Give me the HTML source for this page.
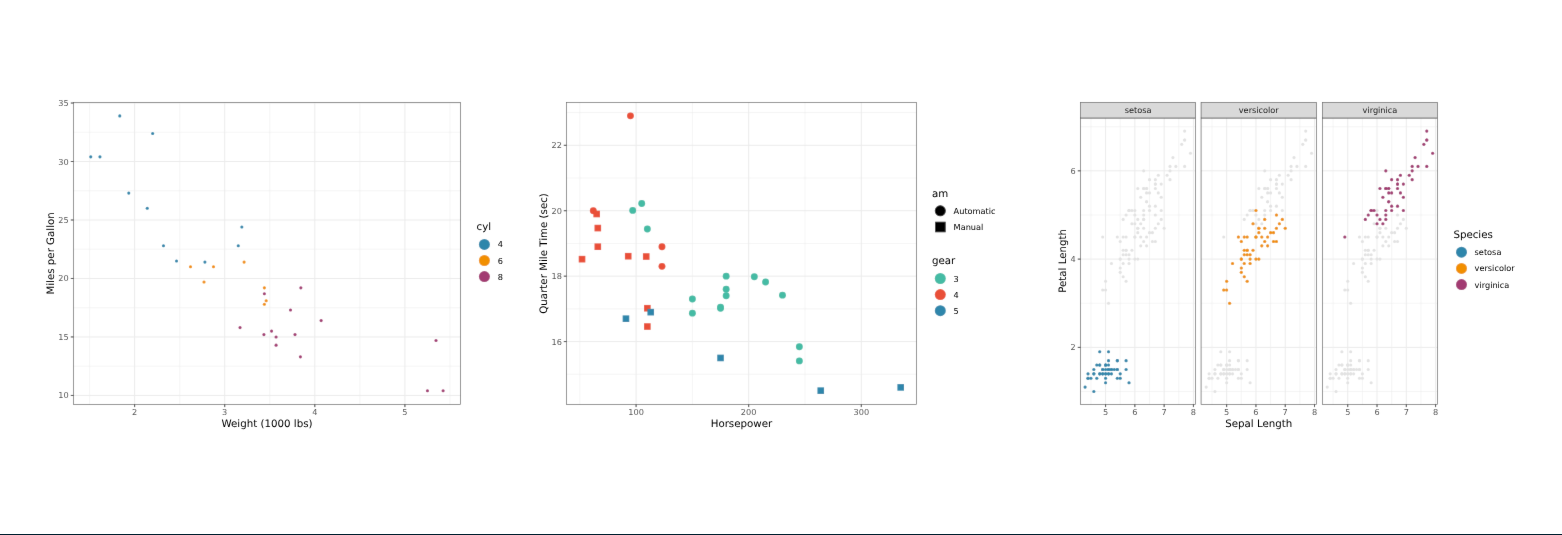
<!DOCTYPE html>
<html><head><meta charset="utf-8"><title>Plots</title>
<style>
html,body{margin:0;padding:0;background:#fff;}
body{width:1562px;height:535px;overflow:hidden;position:relative;}
.wrap{position:absolute;left:0;top:0;width:1562px;height:535px;}
svg{position:absolute;left:0;top:0;}
svg text{font-family:'DejaVu Sans', 'Liberation Sans', sans-serif;text-rendering:geometricPrecision;}
.bar{position:absolute;left:0;top:534px;width:1562px;height:1px;background:#00202f;}
</style></head><body>
<div class="wrap"><svg width="1562" height="535" viewBox="0 0 1562 535">
<defs><filter id="soft" x="0" y="0" width="1562" height="535" filterUnits="userSpaceOnUse"><feConvolveMatrix order="3" kernelMatrix="0.00524 0.06192 0.00524 0.06192 0.73137 0.06192 0.00524 0.06192 0.00524" edgeMode="duplicate" preserveAlpha="true"/></filter><filter id="tsoft" x="0" y="0" width="1562" height="535" filterUnits="userSpaceOnUse"><feConvolveMatrix order="3" kernelMatrix="0.00163 0.03713 0.00163 0.03713 0.84497 0.03713 0.00163 0.03713 0.00163" edgeMode="none"/></filter></defs>
<g filter="url(#soft)">
<rect x="0" y="0" width="1562" height="535" fill="#fff"/>
<line x1="73.5" x2="460.5" y1="366.19" y2="366.19" stroke="#EBEBEB" stroke-width="0.5"/>
<line x1="73.5" x2="460.5" y1="307.71" y2="307.71" stroke="#EBEBEB" stroke-width="0.5"/>
<line x1="73.5" x2="460.5" y1="249.23" y2="249.23" stroke="#EBEBEB" stroke-width="0.5"/>
<line x1="73.5" x2="460.5" y1="190.75" y2="190.75" stroke="#EBEBEB" stroke-width="0.5"/>
<line x1="73.5" x2="460.5" y1="132.27" y2="132.27" stroke="#EBEBEB" stroke-width="0.5"/>
<line y1="102.45" y2="404.4" x1="89.6" x2="89.6" stroke="#EBEBEB" stroke-width="0.5"/>
<line y1="102.45" y2="404.4" x1="179.69" x2="179.69" stroke="#EBEBEB" stroke-width="0.5"/>
<line y1="102.45" y2="404.4" x1="269.78" x2="269.78" stroke="#EBEBEB" stroke-width="0.5"/>
<line y1="102.45" y2="404.4" x1="359.87" x2="359.87" stroke="#EBEBEB" stroke-width="0.5"/>
<line y1="102.45" y2="404.4" x1="449.96" x2="449.96" stroke="#EBEBEB" stroke-width="0.5"/>
<line x1="73.5" x2="460.5" y1="395.44" y2="395.44" stroke="#EBEBEB" stroke-width="1.0"/>
<line x1="73.5" x2="460.5" y1="336.95" y2="336.95" stroke="#EBEBEB" stroke-width="1.0"/>
<line x1="73.5" x2="460.5" y1="278.47" y2="278.47" stroke="#EBEBEB" stroke-width="1.0"/>
<line x1="73.5" x2="460.5" y1="219.99" y2="219.99" stroke="#EBEBEB" stroke-width="1.0"/>
<line x1="73.5" x2="460.5" y1="161.51" y2="161.51" stroke="#EBEBEB" stroke-width="1.0"/>
<line x1="73.5" x2="460.5" y1="103.03" y2="103.03" stroke="#EBEBEB" stroke-width="1.0"/>
<line y1="102.45" y2="404.4" x1="134.64" x2="134.64" stroke="#EBEBEB" stroke-width="1.0"/>
<line y1="102.45" y2="404.4" x1="224.73" x2="224.73" stroke="#EBEBEB" stroke-width="1.0"/>
<line y1="102.45" y2="404.4" x1="314.82" x2="314.82" stroke="#EBEBEB" stroke-width="1.0"/>
<line y1="102.45" y2="404.4" x1="404.91" x2="404.91" stroke="#EBEBEB" stroke-width="1.0"/>
<circle cx="190.5" cy="266.78" r="1.55" fill="#F18F01"/>
<circle cx="213.47" cy="266.78" r="1.55" fill="#F18F01"/>
<circle cx="163.47" cy="245.72" r="1.55" fill="#2E86AB"/>
<circle cx="244.1" cy="262.1" r="1.55" fill="#F18F01"/>
<circle cx="264.37" cy="293.68" r="1.55" fill="#A23B72"/>
<circle cx="266.17" cy="300.7" r="1.55" fill="#F18F01"/>
<circle cx="276.08" cy="345.14" r="1.55" fill="#A23B72"/>
<circle cx="241.85" cy="227.01" r="1.55" fill="#2E86AB"/>
<circle cx="238.25" cy="245.72" r="1.55" fill="#2E86AB"/>
<circle cx="264.37" cy="287.83" r="1.55" fill="#F18F01"/>
<circle cx="264.37" cy="304.2" r="1.55" fill="#F18F01"/>
<circle cx="321.13" cy="320.58" r="1.55" fill="#A23B72"/>
<circle cx="290.5" cy="310.05" r="1.55" fill="#A23B72"/>
<circle cx="295" cy="334.61" r="1.55" fill="#A23B72"/>
<circle cx="427.44" cy="390.76" r="1.55" fill="#A23B72"/>
<circle cx="443.11" cy="390.76" r="1.55" fill="#A23B72"/>
<circle cx="436" cy="340.46" r="1.55" fill="#A23B72"/>
<circle cx="152.66" cy="133.44" r="1.55" fill="#2E86AB"/>
<circle cx="99.96" cy="156.83" r="1.55" fill="#2E86AB"/>
<circle cx="119.78" cy="115.89" r="1.55" fill="#2E86AB"/>
<circle cx="176.53" cy="260.93" r="1.55" fill="#2E86AB"/>
<circle cx="271.58" cy="331.11" r="1.55" fill="#A23B72"/>
<circle cx="263.92" cy="334.61" r="1.55" fill="#A23B72"/>
<circle cx="300.41" cy="356.84" r="1.55" fill="#A23B72"/>
<circle cx="300.86" cy="287.83" r="1.55" fill="#A23B72"/>
<circle cx="128.79" cy="193.09" r="1.55" fill="#2E86AB"/>
<circle cx="147.25" cy="208.29" r="1.55" fill="#2E86AB"/>
<circle cx="90.77" cy="156.83" r="1.55" fill="#2E86AB"/>
<circle cx="240.05" cy="327.6" r="1.55" fill="#A23B72"/>
<circle cx="204.01" cy="281.98" r="1.55" fill="#F18F01"/>
<circle cx="276.08" cy="336.95" r="1.55" fill="#A23B72"/>
<circle cx="204.91" cy="262.1" r="1.55" fill="#2E86AB"/>
<rect x="73.5" y="102.45" width="387" height="301.95" fill="none" stroke="#444444" stroke-width="0.6"/>
<line x1="70.8" x2="73.5" y1="395.44" y2="395.44" stroke="#333333" stroke-width="1.0"/>
<line x1="70.8" x2="73.5" y1="336.95" y2="336.95" stroke="#333333" stroke-width="1.0"/>
<line x1="70.8" x2="73.5" y1="278.47" y2="278.47" stroke="#333333" stroke-width="1.0"/>
<line x1="70.8" x2="73.5" y1="219.99" y2="219.99" stroke="#333333" stroke-width="1.0"/>
<line x1="70.8" x2="73.5" y1="161.51" y2="161.51" stroke="#333333" stroke-width="1.0"/>
<line x1="70.8" x2="73.5" y1="103.03" y2="103.03" stroke="#333333" stroke-width="1.0"/>
<line x1="134.64" x2="134.64" y1="404.4" y2="407.1" stroke="#333333" stroke-width="1.0"/>
<line x1="224.73" x2="224.73" y1="404.4" y2="407.1" stroke="#333333" stroke-width="1.0"/>
<line x1="314.82" x2="314.82" y1="404.4" y2="407.1" stroke="#333333" stroke-width="1.0"/>
<line x1="404.91" x2="404.91" y1="404.4" y2="407.1" stroke="#333333" stroke-width="1.0"/>
<circle cx="484.4" cy="244.4" r="5.5" fill="#2E86AB"/>
<circle cx="484.4" cy="260.5" r="5.5" fill="#F18F01"/>
<circle cx="484.4" cy="276.6" r="5.5" fill="#A23B72"/>
<line x1="566.5" x2="916.4" y1="374.3" y2="374.3" stroke="#EBEBEB" stroke-width="0.5"/>
<line x1="566.5" x2="916.4" y1="308.87" y2="308.87" stroke="#EBEBEB" stroke-width="0.5"/>
<line x1="566.5" x2="916.4" y1="243.45" y2="243.45" stroke="#EBEBEB" stroke-width="0.5"/>
<line x1="566.5" x2="916.4" y1="178.02" y2="178.02" stroke="#EBEBEB" stroke-width="0.5"/>
<line x1="566.5" x2="916.4" y1="112.59" y2="112.59" stroke="#EBEBEB" stroke-width="0.5"/>
<line y1="102.45" y2="404.4" x1="579.79" x2="579.79" stroke="#EBEBEB" stroke-width="0.5"/>
<line y1="102.45" y2="404.4" x1="692.39" x2="692.39" stroke="#EBEBEB" stroke-width="0.5"/>
<line y1="102.45" y2="404.4" x1="804.99" x2="804.99" stroke="#EBEBEB" stroke-width="0.5"/>
<line x1="566.5" x2="916.4" y1="341.59" y2="341.59" stroke="#EBEBEB" stroke-width="1.0"/>
<line x1="566.5" x2="916.4" y1="276.16" y2="276.16" stroke="#EBEBEB" stroke-width="1.0"/>
<line x1="566.5" x2="916.4" y1="210.73" y2="210.73" stroke="#EBEBEB" stroke-width="1.0"/>
<line x1="566.5" x2="916.4" y1="145.3" y2="145.3" stroke="#EBEBEB" stroke-width="1.0"/>
<line y1="102.45" y2="404.4" x1="636.09" x2="636.09" stroke="#EBEBEB" stroke-width="1.0"/>
<line y1="102.45" y2="404.4" x1="748.69" x2="748.69" stroke="#EBEBEB" stroke-width="1.0"/>
<line y1="102.45" y2="404.4" x1="861.29" x2="861.29" stroke="#EBEBEB" stroke-width="1.0"/>
<rect x="644.05" y="323.24" width="6.6" height="6.6" fill="#E94F37"/>
<rect x="644.05" y="304.92" width="6.6" height="6.6" fill="#E94F37"/>
<rect x="624.91" y="252.9" width="6.6" height="6.6" fill="#E94F37"/>
<circle cx="647.35" cy="229.05" r="3.45" fill="#44BBA4"/>
<circle cx="720.54" cy="308.22" r="3.45" fill="#44BBA4"/>
<circle cx="641.72" cy="203.53" r="3.45" fill="#44BBA4"/>
<circle cx="799.36" cy="346.82" r="3.45" fill="#44BBA4"/>
<circle cx="593.3" cy="210.73" r="3.45" fill="#E94F37"/>
<circle cx="630.46" cy="115.86" r="3.45" fill="#E94F37"/>
<circle cx="661.99" cy="266.35" r="3.45" fill="#E94F37"/>
<circle cx="661.99" cy="246.72" r="3.45" fill="#E94F37"/>
<circle cx="726.17" cy="295.79" r="3.45" fill="#44BBA4"/>
<circle cx="726.17" cy="289.25" r="3.45" fill="#44BBA4"/>
<circle cx="726.17" cy="276.16" r="3.45" fill="#44BBA4"/>
<circle cx="754.32" cy="276.81" r="3.45" fill="#44BBA4"/>
<circle cx="765.58" cy="282.05" r="3.45" fill="#44BBA4"/>
<circle cx="782.47" cy="295.13" r="3.45" fill="#44BBA4"/>
<rect x="594.51" y="224.77" width="6.6" height="6.6" fill="#E94F37"/>
<rect x="578.74" y="255.85" width="6.6" height="6.6" fill="#E94F37"/>
<rect x="593.38" y="210.7" width="6.6" height="6.6" fill="#E94F37"/>
<circle cx="632.71" cy="210.4" r="3.45" fill="#44BBA4"/>
<circle cx="692.39" cy="313.13" r="3.45" fill="#44BBA4"/>
<circle cx="692.39" cy="299.06" r="3.45" fill="#44BBA4"/>
<circle cx="799.36" cy="360.89" r="3.45" fill="#44BBA4"/>
<circle cx="720.54" cy="307.24" r="3.45" fill="#44BBA4"/>
<rect x="594.51" y="243.42" width="6.6" height="6.6" fill="#E94F37"/>
<rect x="622.66" y="315.39" width="6.6" height="6.6" fill="#2E86AB"/>
<rect x="647.43" y="308.85" width="6.6" height="6.6" fill="#2E86AB"/>
<rect x="817.45" y="387.36" width="6.6" height="6.6" fill="#2E86AB"/>
<rect x="717.24" y="354.65" width="6.6" height="6.6" fill="#2E86AB"/>
<rect x="897.4" y="384.09" width="6.6" height="6.6" fill="#2E86AB"/>
<rect x="642.92" y="253.23" width="6.6" height="6.6" fill="#E94F37"/>
<rect x="566.5" y="102.45" width="349.9" height="301.95" fill="none" stroke="#444444" stroke-width="0.6"/>
<line x1="563.8" x2="566.5" y1="341.59" y2="341.59" stroke="#333333" stroke-width="1.0"/>
<line x1="563.8" x2="566.5" y1="276.16" y2="276.16" stroke="#333333" stroke-width="1.0"/>
<line x1="563.8" x2="566.5" y1="210.73" y2="210.73" stroke="#333333" stroke-width="1.0"/>
<line x1="563.8" x2="566.5" y1="145.3" y2="145.3" stroke="#333333" stroke-width="1.0"/>
<line x1="636.09" x2="636.09" y1="404.4" y2="407.1" stroke="#333333" stroke-width="1.0"/>
<line x1="748.69" x2="748.69" y1="404.4" y2="407.1" stroke="#333333" stroke-width="1.0"/>
<line x1="861.29" x2="861.29" y1="404.4" y2="407.1" stroke="#333333" stroke-width="1.0"/>
<circle cx="940.3" cy="210.8" r="5.5" fill="#000"/>
<rect x="935.15" y="221.75" width="10.5" height="10.5" fill="#000"/>
<circle cx="940.3" cy="278.5" r="5.5" fill="#44BBA4"/>
<circle cx="940.3" cy="294.6" r="5.5" fill="#E94F37"/>
<circle cx="940.3" cy="310.7" r="5.5" fill="#2E86AB"/>
<line x1="1080.47" x2="1195.65" y1="391.53" y2="391.53" stroke="#EBEBEB" stroke-width="0.5"/>
<line x1="1080.47" x2="1195.65" y1="303.25" y2="303.25" stroke="#EBEBEB" stroke-width="0.5"/>
<line x1="1080.47" x2="1195.65" y1="214.97" y2="214.97" stroke="#EBEBEB" stroke-width="0.5"/>
<line x1="1080.47" x2="1195.65" y1="126.7" y2="126.7" stroke="#EBEBEB" stroke-width="0.5"/>
<line y1="118" y2="404.4" x1="1090.95" x2="1090.95" stroke="#EBEBEB" stroke-width="0.5"/>
<line y1="118" y2="404.4" x1="1120.22" x2="1120.22" stroke="#EBEBEB" stroke-width="0.5"/>
<line y1="118" y2="404.4" x1="1149.5" x2="1149.5" stroke="#EBEBEB" stroke-width="0.5"/>
<line y1="118" y2="404.4" x1="1178.78" x2="1178.78" stroke="#EBEBEB" stroke-width="0.5"/>
<line x1="1080.47" x2="1195.65" y1="347.39" y2="347.39" stroke="#EBEBEB" stroke-width="1.0"/>
<line x1="1080.47" x2="1195.65" y1="259.11" y2="259.11" stroke="#EBEBEB" stroke-width="1.0"/>
<line x1="1080.47" x2="1195.65" y1="170.84" y2="170.84" stroke="#EBEBEB" stroke-width="1.0"/>
<line y1="118" y2="404.4" x1="1105.58" x2="1105.58" stroke="#EBEBEB" stroke-width="1.0"/>
<line y1="118" y2="404.4" x1="1134.86" x2="1134.86" stroke="#EBEBEB" stroke-width="1.0"/>
<line y1="118" y2="404.4" x1="1164.14" x2="1164.14" stroke="#EBEBEB" stroke-width="1.0"/>
<line y1="118" y2="404.4" x1="1193.42" x2="1193.42" stroke="#EBEBEB" stroke-width="1.0"/>
<circle cx="1108.51" cy="373.87" r="1.55" fill="#E2E2E2"/>
<circle cx="1102.66" cy="373.87" r="1.55" fill="#E2E2E2"/>
<circle cx="1096.8" cy="378.29" r="1.55" fill="#E2E2E2"/>
<circle cx="1093.87" cy="369.46" r="1.55" fill="#E2E2E2"/>
<circle cx="1105.58" cy="373.87" r="1.55" fill="#E2E2E2"/>
<circle cx="1117.3" cy="360.63" r="1.55" fill="#E2E2E2"/>
<circle cx="1093.87" cy="373.87" r="1.55" fill="#E2E2E2"/>
<circle cx="1105.58" cy="369.46" r="1.55" fill="#E2E2E2"/>
<circle cx="1088.02" cy="373.87" r="1.55" fill="#E2E2E2"/>
<circle cx="1102.66" cy="369.46" r="1.55" fill="#E2E2E2"/>
<circle cx="1117.3" cy="369.46" r="1.55" fill="#E2E2E2"/>
<circle cx="1099.73" cy="365.05" r="1.55" fill="#E2E2E2"/>
<circle cx="1099.73" cy="373.87" r="1.55" fill="#E2E2E2"/>
<circle cx="1085.09" cy="387.12" r="1.55" fill="#E2E2E2"/>
<circle cx="1129.01" cy="382.7" r="1.55" fill="#E2E2E2"/>
<circle cx="1126.08" cy="369.46" r="1.55" fill="#E2E2E2"/>
<circle cx="1117.3" cy="378.29" r="1.55" fill="#E2E2E2"/>
<circle cx="1108.51" cy="373.87" r="1.55" fill="#E2E2E2"/>
<circle cx="1126.08" cy="360.63" r="1.55" fill="#E2E2E2"/>
<circle cx="1108.51" cy="369.46" r="1.55" fill="#E2E2E2"/>
<circle cx="1117.3" cy="360.63" r="1.55" fill="#E2E2E2"/>
<circle cx="1108.51" cy="369.46" r="1.55" fill="#E2E2E2"/>
<circle cx="1093.87" cy="391.53" r="1.55" fill="#E2E2E2"/>
<circle cx="1108.51" cy="360.63" r="1.55" fill="#E2E2E2"/>
<circle cx="1099.73" cy="351.8" r="1.55" fill="#E2E2E2"/>
<circle cx="1105.58" cy="365.05" r="1.55" fill="#E2E2E2"/>
<circle cx="1105.58" cy="365.05" r="1.55" fill="#E2E2E2"/>
<circle cx="1111.44" cy="369.46" r="1.55" fill="#E2E2E2"/>
<circle cx="1111.44" cy="373.87" r="1.55" fill="#E2E2E2"/>
<circle cx="1096.8" cy="365.05" r="1.55" fill="#E2E2E2"/>
<circle cx="1099.73" cy="365.05" r="1.55" fill="#E2E2E2"/>
<circle cx="1117.3" cy="369.46" r="1.55" fill="#E2E2E2"/>
<circle cx="1111.44" cy="369.46" r="1.55" fill="#E2E2E2"/>
<circle cx="1120.22" cy="373.87" r="1.55" fill="#E2E2E2"/>
<circle cx="1102.66" cy="369.46" r="1.55" fill="#E2E2E2"/>
<circle cx="1105.58" cy="382.7" r="1.55" fill="#E2E2E2"/>
<circle cx="1120.22" cy="378.29" r="1.55" fill="#E2E2E2"/>
<circle cx="1102.66" cy="373.87" r="1.55" fill="#E2E2E2"/>
<circle cx="1088.02" cy="378.29" r="1.55" fill="#E2E2E2"/>
<circle cx="1108.51" cy="369.46" r="1.55" fill="#E2E2E2"/>
<circle cx="1105.58" cy="378.29" r="1.55" fill="#E2E2E2"/>
<circle cx="1090.95" cy="378.29" r="1.55" fill="#E2E2E2"/>
<circle cx="1088.02" cy="378.29" r="1.55" fill="#E2E2E2"/>
<circle cx="1105.58" cy="365.05" r="1.55" fill="#E2E2E2"/>
<circle cx="1108.51" cy="351.8" r="1.55" fill="#E2E2E2"/>
<circle cx="1099.73" cy="373.87" r="1.55" fill="#E2E2E2"/>
<circle cx="1108.51" cy="365.05" r="1.55" fill="#E2E2E2"/>
<circle cx="1093.87" cy="373.87" r="1.55" fill="#E2E2E2"/>
<circle cx="1114.37" cy="369.46" r="1.55" fill="#E2E2E2"/>
<circle cx="1105.58" cy="373.87" r="1.55" fill="#E2E2E2"/>
<circle cx="1164.14" cy="228.22" r="1.55" fill="#E2E2E2"/>
<circle cx="1146.57" cy="237.04" r="1.55" fill="#E2E2E2"/>
<circle cx="1161.21" cy="219.39" r="1.55" fill="#E2E2E2"/>
<circle cx="1120.22" cy="259.11" r="1.55" fill="#E2E2E2"/>
<circle cx="1149.5" cy="232.63" r="1.55" fill="#E2E2E2"/>
<circle cx="1126.08" cy="237.04" r="1.55" fill="#E2E2E2"/>
<circle cx="1143.65" cy="228.22" r="1.55" fill="#E2E2E2"/>
<circle cx="1102.66" cy="290.01" r="1.55" fill="#E2E2E2"/>
<circle cx="1152.43" cy="232.63" r="1.55" fill="#E2E2E2"/>
<circle cx="1111.44" cy="263.53" r="1.55" fill="#E2E2E2"/>
<circle cx="1105.58" cy="281.18" r="1.55" fill="#E2E2E2"/>
<circle cx="1131.93" cy="250.29" r="1.55" fill="#E2E2E2"/>
<circle cx="1134.86" cy="259.11" r="1.55" fill="#E2E2E2"/>
<circle cx="1137.79" cy="228.22" r="1.55" fill="#E2E2E2"/>
<circle cx="1123.15" cy="276.77" r="1.55" fill="#E2E2E2"/>
<circle cx="1155.36" cy="241.46" r="1.55" fill="#E2E2E2"/>
<circle cx="1123.15" cy="237.04" r="1.55" fill="#E2E2E2"/>
<circle cx="1129.01" cy="254.7" r="1.55" fill="#E2E2E2"/>
<circle cx="1140.72" cy="237.04" r="1.55" fill="#E2E2E2"/>
<circle cx="1123.15" cy="263.53" r="1.55" fill="#E2E2E2"/>
<circle cx="1131.93" cy="223.8" r="1.55" fill="#E2E2E2"/>
<circle cx="1137.79" cy="259.11" r="1.55" fill="#E2E2E2"/>
<circle cx="1143.65" cy="219.39" r="1.55" fill="#E2E2E2"/>
<circle cx="1137.79" cy="228.22" r="1.55" fill="#E2E2E2"/>
<circle cx="1146.57" cy="245.87" r="1.55" fill="#E2E2E2"/>
<circle cx="1152.43" cy="241.46" r="1.55" fill="#E2E2E2"/>
<circle cx="1158.28" cy="223.8" r="1.55" fill="#E2E2E2"/>
<circle cx="1155.36" cy="214.97" r="1.55" fill="#E2E2E2"/>
<circle cx="1134.86" cy="237.04" r="1.55" fill="#E2E2E2"/>
<circle cx="1126.08" cy="281.18" r="1.55" fill="#E2E2E2"/>
<circle cx="1120.22" cy="267.94" r="1.55" fill="#E2E2E2"/>
<circle cx="1120.22" cy="272.35" r="1.55" fill="#E2E2E2"/>
<circle cx="1129.01" cy="263.53" r="1.55" fill="#E2E2E2"/>
<circle cx="1134.86" cy="210.56" r="1.55" fill="#E2E2E2"/>
<circle cx="1117.3" cy="237.04" r="1.55" fill="#E2E2E2"/>
<circle cx="1134.86" cy="237.04" r="1.55" fill="#E2E2E2"/>
<circle cx="1155.36" cy="228.22" r="1.55" fill="#E2E2E2"/>
<circle cx="1143.65" cy="241.46" r="1.55" fill="#E2E2E2"/>
<circle cx="1123.15" cy="254.7" r="1.55" fill="#E2E2E2"/>
<circle cx="1120.22" cy="259.11" r="1.55" fill="#E2E2E2"/>
<circle cx="1120.22" cy="241.46" r="1.55" fill="#E2E2E2"/>
<circle cx="1137.79" cy="232.63" r="1.55" fill="#E2E2E2"/>
<circle cx="1129.01" cy="259.11" r="1.55" fill="#E2E2E2"/>
<circle cx="1105.58" cy="290.01" r="1.55" fill="#E2E2E2"/>
<circle cx="1123.15" cy="250.29" r="1.55" fill="#E2E2E2"/>
<circle cx="1126.08" cy="250.29" r="1.55" fill="#E2E2E2"/>
<circle cx="1126.08" cy="250.29" r="1.55" fill="#E2E2E2"/>
<circle cx="1140.72" cy="245.87" r="1.55" fill="#E2E2E2"/>
<circle cx="1108.51" cy="303.25" r="1.55" fill="#E2E2E2"/>
<circle cx="1126.08" cy="254.7" r="1.55" fill="#E2E2E2"/>
<circle cx="1143.65" cy="170.84" r="1.55" fill="#E2E2E2"/>
<circle cx="1129.01" cy="210.56" r="1.55" fill="#E2E2E2"/>
<circle cx="1167.07" cy="175.25" r="1.55" fill="#E2E2E2"/>
<circle cx="1143.65" cy="188.49" r="1.55" fill="#E2E2E2"/>
<circle cx="1149.5" cy="179.66" r="1.55" fill="#E2E2E2"/>
<circle cx="1181.71" cy="144.35" r="1.55" fill="#E2E2E2"/>
<circle cx="1102.66" cy="237.04" r="1.55" fill="#E2E2E2"/>
<circle cx="1172.92" cy="157.59" r="1.55" fill="#E2E2E2"/>
<circle cx="1155.36" cy="179.66" r="1.55" fill="#E2E2E2"/>
<circle cx="1170" cy="166.42" r="1.55" fill="#E2E2E2"/>
<circle cx="1149.5" cy="210.56" r="1.55" fill="#E2E2E2"/>
<circle cx="1146.57" cy="201.73" r="1.55" fill="#E2E2E2"/>
<circle cx="1158.28" cy="192.91" r="1.55" fill="#E2E2E2"/>
<circle cx="1126.08" cy="214.97" r="1.55" fill="#E2E2E2"/>
<circle cx="1129.01" cy="210.56" r="1.55" fill="#E2E2E2"/>
<circle cx="1146.57" cy="201.73" r="1.55" fill="#E2E2E2"/>
<circle cx="1149.5" cy="192.91" r="1.55" fill="#E2E2E2"/>
<circle cx="1184.63" cy="139.94" r="1.55" fill="#E2E2E2"/>
<circle cx="1184.63" cy="131.11" r="1.55" fill="#E2E2E2"/>
<circle cx="1134.86" cy="214.97" r="1.55" fill="#E2E2E2"/>
<circle cx="1161.21" cy="184.08" r="1.55" fill="#E2E2E2"/>
<circle cx="1123.15" cy="219.39" r="1.55" fill="#E2E2E2"/>
<circle cx="1184.63" cy="139.94" r="1.55" fill="#E2E2E2"/>
<circle cx="1143.65" cy="219.39" r="1.55" fill="#E2E2E2"/>
<circle cx="1155.36" cy="184.08" r="1.55" fill="#E2E2E2"/>
<circle cx="1170" cy="170.84" r="1.55" fill="#E2E2E2"/>
<circle cx="1140.72" cy="223.8" r="1.55" fill="#E2E2E2"/>
<circle cx="1137.79" cy="219.39" r="1.55" fill="#E2E2E2"/>
<circle cx="1146.57" cy="188.49" r="1.55" fill="#E2E2E2"/>
<circle cx="1170" cy="179.66" r="1.55" fill="#E2E2E2"/>
<circle cx="1175.85" cy="166.42" r="1.55" fill="#E2E2E2"/>
<circle cx="1190.49" cy="153.18" r="1.55" fill="#E2E2E2"/>
<circle cx="1146.57" cy="188.49" r="1.55" fill="#E2E2E2"/>
<circle cx="1143.65" cy="210.56" r="1.55" fill="#E2E2E2"/>
<circle cx="1137.79" cy="188.49" r="1.55" fill="#E2E2E2"/>
<circle cx="1184.63" cy="166.42" r="1.55" fill="#E2E2E2"/>
<circle cx="1143.65" cy="188.49" r="1.55" fill="#E2E2E2"/>
<circle cx="1146.57" cy="192.91" r="1.55" fill="#E2E2E2"/>
<circle cx="1134.86" cy="223.8" r="1.55" fill="#E2E2E2"/>
<circle cx="1161.21" cy="197.32" r="1.55" fill="#E2E2E2"/>
<circle cx="1155.36" cy="188.49" r="1.55" fill="#E2E2E2"/>
<circle cx="1161.21" cy="210.56" r="1.55" fill="#E2E2E2"/>
<circle cx="1129.01" cy="210.56" r="1.55" fill="#E2E2E2"/>
<circle cx="1158.28" cy="175.25" r="1.55" fill="#E2E2E2"/>
<circle cx="1155.36" cy="184.08" r="1.55" fill="#E2E2E2"/>
<circle cx="1155.36" cy="206.15" r="1.55" fill="#E2E2E2"/>
<circle cx="1143.65" cy="214.97" r="1.55" fill="#E2E2E2"/>
<circle cx="1149.5" cy="206.15" r="1.55" fill="#E2E2E2"/>
<circle cx="1140.72" cy="197.32" r="1.55" fill="#E2E2E2"/>
<circle cx="1131.93" cy="210.56" r="1.55" fill="#E2E2E2"/>
<circle cx="1108.51" cy="373.87" r="1.55" fill="#2E86AB"/>
<circle cx="1102.66" cy="373.87" r="1.55" fill="#2E86AB"/>
<circle cx="1096.8" cy="378.29" r="1.55" fill="#2E86AB"/>
<circle cx="1093.87" cy="369.46" r="1.55" fill="#2E86AB"/>
<circle cx="1105.58" cy="373.87" r="1.55" fill="#2E86AB"/>
<circle cx="1117.3" cy="360.63" r="1.55" fill="#2E86AB"/>
<circle cx="1093.87" cy="373.87" r="1.55" fill="#2E86AB"/>
<circle cx="1105.58" cy="369.46" r="1.55" fill="#2E86AB"/>
<circle cx="1088.02" cy="373.87" r="1.55" fill="#2E86AB"/>
<circle cx="1102.66" cy="369.46" r="1.55" fill="#2E86AB"/>
<circle cx="1117.3" cy="369.46" r="1.55" fill="#2E86AB"/>
<circle cx="1099.73" cy="365.05" r="1.55" fill="#2E86AB"/>
<circle cx="1099.73" cy="373.87" r="1.55" fill="#2E86AB"/>
<circle cx="1085.09" cy="387.12" r="1.55" fill="#2E86AB"/>
<circle cx="1129.01" cy="382.7" r="1.55" fill="#2E86AB"/>
<circle cx="1126.08" cy="369.46" r="1.55" fill="#2E86AB"/>
<circle cx="1117.3" cy="378.29" r="1.55" fill="#2E86AB"/>
<circle cx="1108.51" cy="373.87" r="1.55" fill="#2E86AB"/>
<circle cx="1126.08" cy="360.63" r="1.55" fill="#2E86AB"/>
<circle cx="1108.51" cy="369.46" r="1.55" fill="#2E86AB"/>
<circle cx="1117.3" cy="360.63" r="1.55" fill="#2E86AB"/>
<circle cx="1108.51" cy="369.46" r="1.55" fill="#2E86AB"/>
<circle cx="1093.87" cy="391.53" r="1.55" fill="#2E86AB"/>
<circle cx="1108.51" cy="360.63" r="1.55" fill="#2E86AB"/>
<circle cx="1099.73" cy="351.8" r="1.55" fill="#2E86AB"/>
<circle cx="1105.58" cy="365.05" r="1.55" fill="#2E86AB"/>
<circle cx="1105.58" cy="365.05" r="1.55" fill="#2E86AB"/>
<circle cx="1111.44" cy="369.46" r="1.55" fill="#2E86AB"/>
<circle cx="1111.44" cy="373.87" r="1.55" fill="#2E86AB"/>
<circle cx="1096.8" cy="365.05" r="1.55" fill="#2E86AB"/>
<circle cx="1099.73" cy="365.05" r="1.55" fill="#2E86AB"/>
<circle cx="1117.3" cy="369.46" r="1.55" fill="#2E86AB"/>
<circle cx="1111.44" cy="369.46" r="1.55" fill="#2E86AB"/>
<circle cx="1120.22" cy="373.87" r="1.55" fill="#2E86AB"/>
<circle cx="1102.66" cy="369.46" r="1.55" fill="#2E86AB"/>
<circle cx="1105.58" cy="382.7" r="1.55" fill="#2E86AB"/>
<circle cx="1120.22" cy="378.29" r="1.55" fill="#2E86AB"/>
<circle cx="1102.66" cy="373.87" r="1.55" fill="#2E86AB"/>
<circle cx="1088.02" cy="378.29" r="1.55" fill="#2E86AB"/>
<circle cx="1108.51" cy="369.46" r="1.55" fill="#2E86AB"/>
<circle cx="1105.58" cy="378.29" r="1.55" fill="#2E86AB"/>
<circle cx="1090.95" cy="378.29" r="1.55" fill="#2E86AB"/>
<circle cx="1088.02" cy="378.29" r="1.55" fill="#2E86AB"/>
<circle cx="1105.58" cy="365.05" r="1.55" fill="#2E86AB"/>
<circle cx="1108.51" cy="351.8" r="1.55" fill="#2E86AB"/>
<circle cx="1099.73" cy="373.87" r="1.55" fill="#2E86AB"/>
<circle cx="1108.51" cy="365.05" r="1.55" fill="#2E86AB"/>
<circle cx="1093.87" cy="373.87" r="1.55" fill="#2E86AB"/>
<circle cx="1114.37" cy="369.46" r="1.55" fill="#2E86AB"/>
<circle cx="1105.58" cy="373.87" r="1.55" fill="#2E86AB"/>
<rect x="1080.47" y="118" width="115.18" height="286.4" fill="none" stroke="#444444" stroke-width="0.6"/>
<rect x="1080.47" y="102.45" width="115.18" height="15.55" fill="#D9D9D9" stroke="#444444" stroke-width="0.6"/>
<line x1="1105.58" x2="1105.58" y1="404.4" y2="407.1" stroke="#333333" stroke-width="1.0"/>
<line x1="1134.86" x2="1134.86" y1="404.4" y2="407.1" stroke="#333333" stroke-width="1.0"/>
<line x1="1164.14" x2="1164.14" y1="404.4" y2="407.1" stroke="#333333" stroke-width="1.0"/>
<line x1="1193.42" x2="1193.42" y1="404.4" y2="407.1" stroke="#333333" stroke-width="1.0"/>
<line x1="1077.77" x2="1080.47" y1="347.39" y2="347.39" stroke="#333333" stroke-width="1.0"/>
<line x1="1077.77" x2="1080.47" y1="259.11" y2="259.11" stroke="#333333" stroke-width="1.0"/>
<line x1="1077.77" x2="1080.47" y1="170.84" y2="170.84" stroke="#333333" stroke-width="1.0"/>
<line x1="1201.07" x2="1316.4" y1="391.53" y2="391.53" stroke="#EBEBEB" stroke-width="0.5"/>
<line x1="1201.07" x2="1316.4" y1="303.25" y2="303.25" stroke="#EBEBEB" stroke-width="0.5"/>
<line x1="1201.07" x2="1316.4" y1="214.97" y2="214.97" stroke="#EBEBEB" stroke-width="0.5"/>
<line x1="1201.07" x2="1316.4" y1="126.7" y2="126.7" stroke="#EBEBEB" stroke-width="0.5"/>
<line y1="118" y2="404.4" x1="1212.03" x2="1212.03" stroke="#EBEBEB" stroke-width="0.5"/>
<line y1="118" y2="404.4" x1="1241.3" x2="1241.3" stroke="#EBEBEB" stroke-width="0.5"/>
<line y1="118" y2="404.4" x1="1270.58" x2="1270.58" stroke="#EBEBEB" stroke-width="0.5"/>
<line y1="118" y2="404.4" x1="1299.86" x2="1299.86" stroke="#EBEBEB" stroke-width="0.5"/>
<line x1="1201.07" x2="1316.4" y1="347.39" y2="347.39" stroke="#EBEBEB" stroke-width="1.0"/>
<line x1="1201.07" x2="1316.4" y1="259.11" y2="259.11" stroke="#EBEBEB" stroke-width="1.0"/>
<line x1="1201.07" x2="1316.4" y1="170.84" y2="170.84" stroke="#EBEBEB" stroke-width="1.0"/>
<line y1="118" y2="404.4" x1="1226.66" x2="1226.66" stroke="#EBEBEB" stroke-width="1.0"/>
<line y1="118" y2="404.4" x1="1255.94" x2="1255.94" stroke="#EBEBEB" stroke-width="1.0"/>
<line y1="118" y2="404.4" x1="1285.22" x2="1285.22" stroke="#EBEBEB" stroke-width="1.0"/>
<line y1="118" y2="404.4" x1="1314.5" x2="1314.5" stroke="#EBEBEB" stroke-width="1.0"/>
<circle cx="1229.59" cy="373.87" r="1.55" fill="#E2E2E2"/>
<circle cx="1223.74" cy="373.87" r="1.55" fill="#E2E2E2"/>
<circle cx="1217.88" cy="378.29" r="1.55" fill="#E2E2E2"/>
<circle cx="1214.95" cy="369.46" r="1.55" fill="#E2E2E2"/>
<circle cx="1226.66" cy="373.87" r="1.55" fill="#E2E2E2"/>
<circle cx="1238.38" cy="360.63" r="1.55" fill="#E2E2E2"/>
<circle cx="1214.95" cy="373.87" r="1.55" fill="#E2E2E2"/>
<circle cx="1226.66" cy="369.46" r="1.55" fill="#E2E2E2"/>
<circle cx="1209.1" cy="373.87" r="1.55" fill="#E2E2E2"/>
<circle cx="1223.74" cy="369.46" r="1.55" fill="#E2E2E2"/>
<circle cx="1238.38" cy="369.46" r="1.55" fill="#E2E2E2"/>
<circle cx="1220.81" cy="365.05" r="1.55" fill="#E2E2E2"/>
<circle cx="1220.81" cy="373.87" r="1.55" fill="#E2E2E2"/>
<circle cx="1206.17" cy="387.12" r="1.55" fill="#E2E2E2"/>
<circle cx="1250.09" cy="382.7" r="1.55" fill="#E2E2E2"/>
<circle cx="1247.16" cy="369.46" r="1.55" fill="#E2E2E2"/>
<circle cx="1238.38" cy="378.29" r="1.55" fill="#E2E2E2"/>
<circle cx="1229.59" cy="373.87" r="1.55" fill="#E2E2E2"/>
<circle cx="1247.16" cy="360.63" r="1.55" fill="#E2E2E2"/>
<circle cx="1229.59" cy="369.46" r="1.55" fill="#E2E2E2"/>
<circle cx="1238.38" cy="360.63" r="1.55" fill="#E2E2E2"/>
<circle cx="1229.59" cy="369.46" r="1.55" fill="#E2E2E2"/>
<circle cx="1214.95" cy="391.53" r="1.55" fill="#E2E2E2"/>
<circle cx="1229.59" cy="360.63" r="1.55" fill="#E2E2E2"/>
<circle cx="1220.81" cy="351.8" r="1.55" fill="#E2E2E2"/>
<circle cx="1226.66" cy="365.05" r="1.55" fill="#E2E2E2"/>
<circle cx="1226.66" cy="365.05" r="1.55" fill="#E2E2E2"/>
<circle cx="1232.52" cy="369.46" r="1.55" fill="#E2E2E2"/>
<circle cx="1232.52" cy="373.87" r="1.55" fill="#E2E2E2"/>
<circle cx="1217.88" cy="365.05" r="1.55" fill="#E2E2E2"/>
<circle cx="1220.81" cy="365.05" r="1.55" fill="#E2E2E2"/>
<circle cx="1238.38" cy="369.46" r="1.55" fill="#E2E2E2"/>
<circle cx="1232.52" cy="369.46" r="1.55" fill="#E2E2E2"/>
<circle cx="1241.3" cy="373.87" r="1.55" fill="#E2E2E2"/>
<circle cx="1223.74" cy="369.46" r="1.55" fill="#E2E2E2"/>
<circle cx="1226.66" cy="382.7" r="1.55" fill="#E2E2E2"/>
<circle cx="1241.3" cy="378.29" r="1.55" fill="#E2E2E2"/>
<circle cx="1223.74" cy="373.87" r="1.55" fill="#E2E2E2"/>
<circle cx="1209.1" cy="378.29" r="1.55" fill="#E2E2E2"/>
<circle cx="1229.59" cy="369.46" r="1.55" fill="#E2E2E2"/>
<circle cx="1226.66" cy="378.29" r="1.55" fill="#E2E2E2"/>
<circle cx="1212.03" cy="378.29" r="1.55" fill="#E2E2E2"/>
<circle cx="1209.1" cy="378.29" r="1.55" fill="#E2E2E2"/>
<circle cx="1226.66" cy="365.05" r="1.55" fill="#E2E2E2"/>
<circle cx="1229.59" cy="351.8" r="1.55" fill="#E2E2E2"/>
<circle cx="1220.81" cy="373.87" r="1.55" fill="#E2E2E2"/>
<circle cx="1229.59" cy="365.05" r="1.55" fill="#E2E2E2"/>
<circle cx="1214.95" cy="373.87" r="1.55" fill="#E2E2E2"/>
<circle cx="1235.45" cy="369.46" r="1.55" fill="#E2E2E2"/>
<circle cx="1226.66" cy="373.87" r="1.55" fill="#E2E2E2"/>
<circle cx="1285.22" cy="228.22" r="1.55" fill="#E2E2E2"/>
<circle cx="1267.65" cy="237.04" r="1.55" fill="#E2E2E2"/>
<circle cx="1282.29" cy="219.39" r="1.55" fill="#E2E2E2"/>
<circle cx="1241.3" cy="259.11" r="1.55" fill="#E2E2E2"/>
<circle cx="1270.58" cy="232.63" r="1.55" fill="#E2E2E2"/>
<circle cx="1247.16" cy="237.04" r="1.55" fill="#E2E2E2"/>
<circle cx="1264.73" cy="228.22" r="1.55" fill="#E2E2E2"/>
<circle cx="1223.74" cy="290.01" r="1.55" fill="#E2E2E2"/>
<circle cx="1273.51" cy="232.63" r="1.55" fill="#E2E2E2"/>
<circle cx="1232.52" cy="263.53" r="1.55" fill="#E2E2E2"/>
<circle cx="1226.66" cy="281.18" r="1.55" fill="#E2E2E2"/>
<circle cx="1253.01" cy="250.29" r="1.55" fill="#E2E2E2"/>
<circle cx="1255.94" cy="259.11" r="1.55" fill="#E2E2E2"/>
<circle cx="1258.87" cy="228.22" r="1.55" fill="#E2E2E2"/>
<circle cx="1244.23" cy="276.77" r="1.55" fill="#E2E2E2"/>
<circle cx="1276.44" cy="241.46" r="1.55" fill="#E2E2E2"/>
<circle cx="1244.23" cy="237.04" r="1.55" fill="#E2E2E2"/>
<circle cx="1250.09" cy="254.7" r="1.55" fill="#E2E2E2"/>
<circle cx="1261.8" cy="237.04" r="1.55" fill="#E2E2E2"/>
<circle cx="1244.23" cy="263.53" r="1.55" fill="#E2E2E2"/>
<circle cx="1253.01" cy="223.8" r="1.55" fill="#E2E2E2"/>
<circle cx="1258.87" cy="259.11" r="1.55" fill="#E2E2E2"/>
<circle cx="1264.73" cy="219.39" r="1.55" fill="#E2E2E2"/>
<circle cx="1258.87" cy="228.22" r="1.55" fill="#E2E2E2"/>
<circle cx="1267.65" cy="245.87" r="1.55" fill="#E2E2E2"/>
<circle cx="1273.51" cy="241.46" r="1.55" fill="#E2E2E2"/>
<circle cx="1279.36" cy="223.8" r="1.55" fill="#E2E2E2"/>
<circle cx="1276.44" cy="214.97" r="1.55" fill="#E2E2E2"/>
<circle cx="1255.94" cy="237.04" r="1.55" fill="#E2E2E2"/>
<circle cx="1247.16" cy="281.18" r="1.55" fill="#E2E2E2"/>
<circle cx="1241.3" cy="267.94" r="1.55" fill="#E2E2E2"/>
<circle cx="1241.3" cy="272.35" r="1.55" fill="#E2E2E2"/>
<circle cx="1250.09" cy="263.53" r="1.55" fill="#E2E2E2"/>
<circle cx="1255.94" cy="210.56" r="1.55" fill="#E2E2E2"/>
<circle cx="1238.38" cy="237.04" r="1.55" fill="#E2E2E2"/>
<circle cx="1255.94" cy="237.04" r="1.55" fill="#E2E2E2"/>
<circle cx="1276.44" cy="228.22" r="1.55" fill="#E2E2E2"/>
<circle cx="1264.73" cy="241.46" r="1.55" fill="#E2E2E2"/>
<circle cx="1244.23" cy="254.7" r="1.55" fill="#E2E2E2"/>
<circle cx="1241.3" cy="259.11" r="1.55" fill="#E2E2E2"/>
<circle cx="1241.3" cy="241.46" r="1.55" fill="#E2E2E2"/>
<circle cx="1258.87" cy="232.63" r="1.55" fill="#E2E2E2"/>
<circle cx="1250.09" cy="259.11" r="1.55" fill="#E2E2E2"/>
<circle cx="1226.66" cy="290.01" r="1.55" fill="#E2E2E2"/>
<circle cx="1244.23" cy="250.29" r="1.55" fill="#E2E2E2"/>
<circle cx="1247.16" cy="250.29" r="1.55" fill="#E2E2E2"/>
<circle cx="1247.16" cy="250.29" r="1.55" fill="#E2E2E2"/>
<circle cx="1261.8" cy="245.87" r="1.55" fill="#E2E2E2"/>
<circle cx="1229.59" cy="303.25" r="1.55" fill="#E2E2E2"/>
<circle cx="1247.16" cy="254.7" r="1.55" fill="#E2E2E2"/>
<circle cx="1264.73" cy="170.84" r="1.55" fill="#E2E2E2"/>
<circle cx="1250.09" cy="210.56" r="1.55" fill="#E2E2E2"/>
<circle cx="1288.15" cy="175.25" r="1.55" fill="#E2E2E2"/>
<circle cx="1264.73" cy="188.49" r="1.55" fill="#E2E2E2"/>
<circle cx="1270.58" cy="179.66" r="1.55" fill="#E2E2E2"/>
<circle cx="1302.79" cy="144.35" r="1.55" fill="#E2E2E2"/>
<circle cx="1223.74" cy="237.04" r="1.55" fill="#E2E2E2"/>
<circle cx="1294" cy="157.59" r="1.55" fill="#E2E2E2"/>
<circle cx="1276.44" cy="179.66" r="1.55" fill="#E2E2E2"/>
<circle cx="1291.08" cy="166.42" r="1.55" fill="#E2E2E2"/>
<circle cx="1270.58" cy="210.56" r="1.55" fill="#E2E2E2"/>
<circle cx="1267.65" cy="201.73" r="1.55" fill="#E2E2E2"/>
<circle cx="1279.36" cy="192.91" r="1.55" fill="#E2E2E2"/>
<circle cx="1247.16" cy="214.97" r="1.55" fill="#E2E2E2"/>
<circle cx="1250.09" cy="210.56" r="1.55" fill="#E2E2E2"/>
<circle cx="1267.65" cy="201.73" r="1.55" fill="#E2E2E2"/>
<circle cx="1270.58" cy="192.91" r="1.55" fill="#E2E2E2"/>
<circle cx="1305.71" cy="139.94" r="1.55" fill="#E2E2E2"/>
<circle cx="1305.71" cy="131.11" r="1.55" fill="#E2E2E2"/>
<circle cx="1255.94" cy="214.97" r="1.55" fill="#E2E2E2"/>
<circle cx="1282.29" cy="184.08" r="1.55" fill="#E2E2E2"/>
<circle cx="1244.23" cy="219.39" r="1.55" fill="#E2E2E2"/>
<circle cx="1305.71" cy="139.94" r="1.55" fill="#E2E2E2"/>
<circle cx="1264.73" cy="219.39" r="1.55" fill="#E2E2E2"/>
<circle cx="1276.44" cy="184.08" r="1.55" fill="#E2E2E2"/>
<circle cx="1291.08" cy="170.84" r="1.55" fill="#E2E2E2"/>
<circle cx="1261.8" cy="223.8" r="1.55" fill="#E2E2E2"/>
<circle cx="1258.87" cy="219.39" r="1.55" fill="#E2E2E2"/>
<circle cx="1267.65" cy="188.49" r="1.55" fill="#E2E2E2"/>
<circle cx="1291.08" cy="179.66" r="1.55" fill="#E2E2E2"/>
<circle cx="1296.93" cy="166.42" r="1.55" fill="#E2E2E2"/>
<circle cx="1311.57" cy="153.18" r="1.55" fill="#E2E2E2"/>
<circle cx="1267.65" cy="188.49" r="1.55" fill="#E2E2E2"/>
<circle cx="1264.73" cy="210.56" r="1.55" fill="#E2E2E2"/>
<circle cx="1258.87" cy="188.49" r="1.55" fill="#E2E2E2"/>
<circle cx="1305.71" cy="166.42" r="1.55" fill="#E2E2E2"/>
<circle cx="1264.73" cy="188.49" r="1.55" fill="#E2E2E2"/>
<circle cx="1267.65" cy="192.91" r="1.55" fill="#E2E2E2"/>
<circle cx="1255.94" cy="223.8" r="1.55" fill="#E2E2E2"/>
<circle cx="1282.29" cy="197.32" r="1.55" fill="#E2E2E2"/>
<circle cx="1276.44" cy="188.49" r="1.55" fill="#E2E2E2"/>
<circle cx="1282.29" cy="210.56" r="1.55" fill="#E2E2E2"/>
<circle cx="1250.09" cy="210.56" r="1.55" fill="#E2E2E2"/>
<circle cx="1279.36" cy="175.25" r="1.55" fill="#E2E2E2"/>
<circle cx="1276.44" cy="184.08" r="1.55" fill="#E2E2E2"/>
<circle cx="1276.44" cy="206.15" r="1.55" fill="#E2E2E2"/>
<circle cx="1264.73" cy="214.97" r="1.55" fill="#E2E2E2"/>
<circle cx="1270.58" cy="206.15" r="1.55" fill="#E2E2E2"/>
<circle cx="1261.8" cy="197.32" r="1.55" fill="#E2E2E2"/>
<circle cx="1253.01" cy="210.56" r="1.55" fill="#E2E2E2"/>
<circle cx="1285.22" cy="228.22" r="1.55" fill="#F18F01"/>
<circle cx="1267.65" cy="237.04" r="1.55" fill="#F18F01"/>
<circle cx="1282.29" cy="219.39" r="1.55" fill="#F18F01"/>
<circle cx="1241.3" cy="259.11" r="1.55" fill="#F18F01"/>
<circle cx="1270.58" cy="232.63" r="1.55" fill="#F18F01"/>
<circle cx="1247.16" cy="237.04" r="1.55" fill="#F18F01"/>
<circle cx="1264.73" cy="228.22" r="1.55" fill="#F18F01"/>
<circle cx="1223.74" cy="290.01" r="1.55" fill="#F18F01"/>
<circle cx="1273.51" cy="232.63" r="1.55" fill="#F18F01"/>
<circle cx="1232.52" cy="263.53" r="1.55" fill="#F18F01"/>
<circle cx="1226.66" cy="281.18" r="1.55" fill="#F18F01"/>
<circle cx="1253.01" cy="250.29" r="1.55" fill="#F18F01"/>
<circle cx="1255.94" cy="259.11" r="1.55" fill="#F18F01"/>
<circle cx="1258.87" cy="228.22" r="1.55" fill="#F18F01"/>
<circle cx="1244.23" cy="276.77" r="1.55" fill="#F18F01"/>
<circle cx="1276.44" cy="241.46" r="1.55" fill="#F18F01"/>
<circle cx="1244.23" cy="237.04" r="1.55" fill="#F18F01"/>
<circle cx="1250.09" cy="254.7" r="1.55" fill="#F18F01"/>
<circle cx="1261.8" cy="237.04" r="1.55" fill="#F18F01"/>
<circle cx="1244.23" cy="263.53" r="1.55" fill="#F18F01"/>
<circle cx="1253.01" cy="223.8" r="1.55" fill="#F18F01"/>
<circle cx="1258.87" cy="259.11" r="1.55" fill="#F18F01"/>
<circle cx="1264.73" cy="219.39" r="1.55" fill="#F18F01"/>
<circle cx="1258.87" cy="228.22" r="1.55" fill="#F18F01"/>
<circle cx="1267.65" cy="245.87" r="1.55" fill="#F18F01"/>
<circle cx="1273.51" cy="241.46" r="1.55" fill="#F18F01"/>
<circle cx="1279.36" cy="223.8" r="1.55" fill="#F18F01"/>
<circle cx="1276.44" cy="214.97" r="1.55" fill="#F18F01"/>
<circle cx="1255.94" cy="237.04" r="1.55" fill="#F18F01"/>
<circle cx="1247.16" cy="281.18" r="1.55" fill="#F18F01"/>
<circle cx="1241.3" cy="267.94" r="1.55" fill="#F18F01"/>
<circle cx="1241.3" cy="272.35" r="1.55" fill="#F18F01"/>
<circle cx="1250.09" cy="263.53" r="1.55" fill="#F18F01"/>
<circle cx="1255.94" cy="210.56" r="1.55" fill="#F18F01"/>
<circle cx="1238.38" cy="237.04" r="1.55" fill="#F18F01"/>
<circle cx="1255.94" cy="237.04" r="1.55" fill="#F18F01"/>
<circle cx="1276.44" cy="228.22" r="1.55" fill="#F18F01"/>
<circle cx="1264.73" cy="241.46" r="1.55" fill="#F18F01"/>
<circle cx="1244.23" cy="254.7" r="1.55" fill="#F18F01"/>
<circle cx="1241.3" cy="259.11" r="1.55" fill="#F18F01"/>
<circle cx="1241.3" cy="241.46" r="1.55" fill="#F18F01"/>
<circle cx="1258.87" cy="232.63" r="1.55" fill="#F18F01"/>
<circle cx="1250.09" cy="259.11" r="1.55" fill="#F18F01"/>
<circle cx="1226.66" cy="290.01" r="1.55" fill="#F18F01"/>
<circle cx="1244.23" cy="250.29" r="1.55" fill="#F18F01"/>
<circle cx="1247.16" cy="250.29" r="1.55" fill="#F18F01"/>
<circle cx="1247.16" cy="250.29" r="1.55" fill="#F18F01"/>
<circle cx="1261.8" cy="245.87" r="1.55" fill="#F18F01"/>
<circle cx="1229.59" cy="303.25" r="1.55" fill="#F18F01"/>
<circle cx="1247.16" cy="254.7" r="1.55" fill="#F18F01"/>
<rect x="1201.07" y="118" width="115.33" height="286.4" fill="none" stroke="#444444" stroke-width="0.6"/>
<rect x="1201.07" y="102.45" width="115.33" height="15.55" fill="#D9D9D9" stroke="#444444" stroke-width="0.6"/>
<line x1="1226.66" x2="1226.66" y1="404.4" y2="407.1" stroke="#333333" stroke-width="1.0"/>
<line x1="1255.94" x2="1255.94" y1="404.4" y2="407.1" stroke="#333333" stroke-width="1.0"/>
<line x1="1285.22" x2="1285.22" y1="404.4" y2="407.1" stroke="#333333" stroke-width="1.0"/>
<line x1="1314.5" x2="1314.5" y1="404.4" y2="407.1" stroke="#333333" stroke-width="1.0"/>
<line x1="1322.4" x2="1437.52" y1="391.53" y2="391.53" stroke="#EBEBEB" stroke-width="0.5"/>
<line x1="1322.4" x2="1437.52" y1="303.25" y2="303.25" stroke="#EBEBEB" stroke-width="0.5"/>
<line x1="1322.4" x2="1437.52" y1="214.97" y2="214.97" stroke="#EBEBEB" stroke-width="0.5"/>
<line x1="1322.4" x2="1437.52" y1="126.7" y2="126.7" stroke="#EBEBEB" stroke-width="0.5"/>
<line y1="118" y2="404.4" x1="1333.11" x2="1333.11" stroke="#EBEBEB" stroke-width="0.5"/>
<line y1="118" y2="404.4" x1="1362.38" x2="1362.38" stroke="#EBEBEB" stroke-width="0.5"/>
<line y1="118" y2="404.4" x1="1391.66" x2="1391.66" stroke="#EBEBEB" stroke-width="0.5"/>
<line y1="118" y2="404.4" x1="1420.94" x2="1420.94" stroke="#EBEBEB" stroke-width="0.5"/>
<line x1="1322.4" x2="1437.52" y1="347.39" y2="347.39" stroke="#EBEBEB" stroke-width="1.0"/>
<line x1="1322.4" x2="1437.52" y1="259.11" y2="259.11" stroke="#EBEBEB" stroke-width="1.0"/>
<line x1="1322.4" x2="1437.52" y1="170.84" y2="170.84" stroke="#EBEBEB" stroke-width="1.0"/>
<line y1="118" y2="404.4" x1="1347.74" x2="1347.74" stroke="#EBEBEB" stroke-width="1.0"/>
<line y1="118" y2="404.4" x1="1377.02" x2="1377.02" stroke="#EBEBEB" stroke-width="1.0"/>
<line y1="118" y2="404.4" x1="1406.3" x2="1406.3" stroke="#EBEBEB" stroke-width="1.0"/>
<line y1="118" y2="404.4" x1="1435.58" x2="1435.58" stroke="#EBEBEB" stroke-width="1.0"/>
<circle cx="1350.67" cy="373.87" r="1.55" fill="#E2E2E2"/>
<circle cx="1344.82" cy="373.87" r="1.55" fill="#E2E2E2"/>
<circle cx="1338.96" cy="378.29" r="1.55" fill="#E2E2E2"/>
<circle cx="1336.03" cy="369.46" r="1.55" fill="#E2E2E2"/>
<circle cx="1347.74" cy="373.87" r="1.55" fill="#E2E2E2"/>
<circle cx="1359.46" cy="360.63" r="1.55" fill="#E2E2E2"/>
<circle cx="1336.03" cy="373.87" r="1.55" fill="#E2E2E2"/>
<circle cx="1347.74" cy="369.46" r="1.55" fill="#E2E2E2"/>
<circle cx="1330.18" cy="373.87" r="1.55" fill="#E2E2E2"/>
<circle cx="1344.82" cy="369.46" r="1.55" fill="#E2E2E2"/>
<circle cx="1359.46" cy="369.46" r="1.55" fill="#E2E2E2"/>
<circle cx="1341.89" cy="365.05" r="1.55" fill="#E2E2E2"/>
<circle cx="1341.89" cy="373.87" r="1.55" fill="#E2E2E2"/>
<circle cx="1327.25" cy="387.12" r="1.55" fill="#E2E2E2"/>
<circle cx="1371.17" cy="382.7" r="1.55" fill="#E2E2E2"/>
<circle cx="1368.24" cy="369.46" r="1.55" fill="#E2E2E2"/>
<circle cx="1359.46" cy="378.29" r="1.55" fill="#E2E2E2"/>
<circle cx="1350.67" cy="373.87" r="1.55" fill="#E2E2E2"/>
<circle cx="1368.24" cy="360.63" r="1.55" fill="#E2E2E2"/>
<circle cx="1350.67" cy="369.46" r="1.55" fill="#E2E2E2"/>
<circle cx="1359.46" cy="360.63" r="1.55" fill="#E2E2E2"/>
<circle cx="1350.67" cy="369.46" r="1.55" fill="#E2E2E2"/>
<circle cx="1336.03" cy="391.53" r="1.55" fill="#E2E2E2"/>
<circle cx="1350.67" cy="360.63" r="1.55" fill="#E2E2E2"/>
<circle cx="1341.89" cy="351.8" r="1.55" fill="#E2E2E2"/>
<circle cx="1347.74" cy="365.05" r="1.55" fill="#E2E2E2"/>
<circle cx="1347.74" cy="365.05" r="1.55" fill="#E2E2E2"/>
<circle cx="1353.6" cy="369.46" r="1.55" fill="#E2E2E2"/>
<circle cx="1353.6" cy="373.87" r="1.55" fill="#E2E2E2"/>
<circle cx="1338.96" cy="365.05" r="1.55" fill="#E2E2E2"/>
<circle cx="1341.89" cy="365.05" r="1.55" fill="#E2E2E2"/>
<circle cx="1359.46" cy="369.46" r="1.55" fill="#E2E2E2"/>
<circle cx="1353.6" cy="369.46" r="1.55" fill="#E2E2E2"/>
<circle cx="1362.38" cy="373.87" r="1.55" fill="#E2E2E2"/>
<circle cx="1344.82" cy="369.46" r="1.55" fill="#E2E2E2"/>
<circle cx="1347.74" cy="382.7" r="1.55" fill="#E2E2E2"/>
<circle cx="1362.38" cy="378.29" r="1.55" fill="#E2E2E2"/>
<circle cx="1344.82" cy="373.87" r="1.55" fill="#E2E2E2"/>
<circle cx="1330.18" cy="378.29" r="1.55" fill="#E2E2E2"/>
<circle cx="1350.67" cy="369.46" r="1.55" fill="#E2E2E2"/>
<circle cx="1347.74" cy="378.29" r="1.55" fill="#E2E2E2"/>
<circle cx="1333.11" cy="378.29" r="1.55" fill="#E2E2E2"/>
<circle cx="1330.18" cy="378.29" r="1.55" fill="#E2E2E2"/>
<circle cx="1347.74" cy="365.05" r="1.55" fill="#E2E2E2"/>
<circle cx="1350.67" cy="351.8" r="1.55" fill="#E2E2E2"/>
<circle cx="1341.89" cy="373.87" r="1.55" fill="#E2E2E2"/>
<circle cx="1350.67" cy="365.05" r="1.55" fill="#E2E2E2"/>
<circle cx="1336.03" cy="373.87" r="1.55" fill="#E2E2E2"/>
<circle cx="1356.53" cy="369.46" r="1.55" fill="#E2E2E2"/>
<circle cx="1347.74" cy="373.87" r="1.55" fill="#E2E2E2"/>
<circle cx="1406.3" cy="228.22" r="1.55" fill="#E2E2E2"/>
<circle cx="1388.73" cy="237.04" r="1.55" fill="#E2E2E2"/>
<circle cx="1403.37" cy="219.39" r="1.55" fill="#E2E2E2"/>
<circle cx="1362.38" cy="259.11" r="1.55" fill="#E2E2E2"/>
<circle cx="1391.66" cy="232.63" r="1.55" fill="#E2E2E2"/>
<circle cx="1368.24" cy="237.04" r="1.55" fill="#E2E2E2"/>
<circle cx="1385.81" cy="228.22" r="1.55" fill="#E2E2E2"/>
<circle cx="1344.82" cy="290.01" r="1.55" fill="#E2E2E2"/>
<circle cx="1394.59" cy="232.63" r="1.55" fill="#E2E2E2"/>
<circle cx="1353.6" cy="263.53" r="1.55" fill="#E2E2E2"/>
<circle cx="1347.74" cy="281.18" r="1.55" fill="#E2E2E2"/>
<circle cx="1374.09" cy="250.29" r="1.55" fill="#E2E2E2"/>
<circle cx="1377.02" cy="259.11" r="1.55" fill="#E2E2E2"/>
<circle cx="1379.95" cy="228.22" r="1.55" fill="#E2E2E2"/>
<circle cx="1365.31" cy="276.77" r="1.55" fill="#E2E2E2"/>
<circle cx="1397.52" cy="241.46" r="1.55" fill="#E2E2E2"/>
<circle cx="1365.31" cy="237.04" r="1.55" fill="#E2E2E2"/>
<circle cx="1371.17" cy="254.7" r="1.55" fill="#E2E2E2"/>
<circle cx="1382.88" cy="237.04" r="1.55" fill="#E2E2E2"/>
<circle cx="1365.31" cy="263.53" r="1.55" fill="#E2E2E2"/>
<circle cx="1374.09" cy="223.8" r="1.55" fill="#E2E2E2"/>
<circle cx="1379.95" cy="259.11" r="1.55" fill="#E2E2E2"/>
<circle cx="1385.81" cy="219.39" r="1.55" fill="#E2E2E2"/>
<circle cx="1379.95" cy="228.22" r="1.55" fill="#E2E2E2"/>
<circle cx="1388.73" cy="245.87" r="1.55" fill="#E2E2E2"/>
<circle cx="1394.59" cy="241.46" r="1.55" fill="#E2E2E2"/>
<circle cx="1400.44" cy="223.8" r="1.55" fill="#E2E2E2"/>
<circle cx="1397.52" cy="214.97" r="1.55" fill="#E2E2E2"/>
<circle cx="1377.02" cy="237.04" r="1.55" fill="#E2E2E2"/>
<circle cx="1368.24" cy="281.18" r="1.55" fill="#E2E2E2"/>
<circle cx="1362.38" cy="267.94" r="1.55" fill="#E2E2E2"/>
<circle cx="1362.38" cy="272.35" r="1.55" fill="#E2E2E2"/>
<circle cx="1371.17" cy="263.53" r="1.55" fill="#E2E2E2"/>
<circle cx="1377.02" cy="210.56" r="1.55" fill="#E2E2E2"/>
<circle cx="1359.46" cy="237.04" r="1.55" fill="#E2E2E2"/>
<circle cx="1377.02" cy="237.04" r="1.55" fill="#E2E2E2"/>
<circle cx="1397.52" cy="228.22" r="1.55" fill="#E2E2E2"/>
<circle cx="1385.81" cy="241.46" r="1.55" fill="#E2E2E2"/>
<circle cx="1365.31" cy="254.7" r="1.55" fill="#E2E2E2"/>
<circle cx="1362.38" cy="259.11" r="1.55" fill="#E2E2E2"/>
<circle cx="1362.38" cy="241.46" r="1.55" fill="#E2E2E2"/>
<circle cx="1379.95" cy="232.63" r="1.55" fill="#E2E2E2"/>
<circle cx="1371.17" cy="259.11" r="1.55" fill="#E2E2E2"/>
<circle cx="1347.74" cy="290.01" r="1.55" fill="#E2E2E2"/>
<circle cx="1365.31" cy="250.29" r="1.55" fill="#E2E2E2"/>
<circle cx="1368.24" cy="250.29" r="1.55" fill="#E2E2E2"/>
<circle cx="1368.24" cy="250.29" r="1.55" fill="#E2E2E2"/>
<circle cx="1382.88" cy="245.87" r="1.55" fill="#E2E2E2"/>
<circle cx="1350.67" cy="303.25" r="1.55" fill="#E2E2E2"/>
<circle cx="1368.24" cy="254.7" r="1.55" fill="#E2E2E2"/>
<circle cx="1385.81" cy="170.84" r="1.55" fill="#E2E2E2"/>
<circle cx="1371.17" cy="210.56" r="1.55" fill="#E2E2E2"/>
<circle cx="1409.23" cy="175.25" r="1.55" fill="#E2E2E2"/>
<circle cx="1385.81" cy="188.49" r="1.55" fill="#E2E2E2"/>
<circle cx="1391.66" cy="179.66" r="1.55" fill="#E2E2E2"/>
<circle cx="1423.87" cy="144.35" r="1.55" fill="#E2E2E2"/>
<circle cx="1344.82" cy="237.04" r="1.55" fill="#E2E2E2"/>
<circle cx="1415.08" cy="157.59" r="1.55" fill="#E2E2E2"/>
<circle cx="1397.52" cy="179.66" r="1.55" fill="#E2E2E2"/>
<circle cx="1412.16" cy="166.42" r="1.55" fill="#E2E2E2"/>
<circle cx="1391.66" cy="210.56" r="1.55" fill="#E2E2E2"/>
<circle cx="1388.73" cy="201.73" r="1.55" fill="#E2E2E2"/>
<circle cx="1400.44" cy="192.91" r="1.55" fill="#E2E2E2"/>
<circle cx="1368.24" cy="214.97" r="1.55" fill="#E2E2E2"/>
<circle cx="1371.17" cy="210.56" r="1.55" fill="#E2E2E2"/>
<circle cx="1388.73" cy="201.73" r="1.55" fill="#E2E2E2"/>
<circle cx="1391.66" cy="192.91" r="1.55" fill="#E2E2E2"/>
<circle cx="1426.79" cy="139.94" r="1.55" fill="#E2E2E2"/>
<circle cx="1426.79" cy="131.11" r="1.55" fill="#E2E2E2"/>
<circle cx="1377.02" cy="214.97" r="1.55" fill="#E2E2E2"/>
<circle cx="1403.37" cy="184.08" r="1.55" fill="#E2E2E2"/>
<circle cx="1365.31" cy="219.39" r="1.55" fill="#E2E2E2"/>
<circle cx="1426.79" cy="139.94" r="1.55" fill="#E2E2E2"/>
<circle cx="1385.81" cy="219.39" r="1.55" fill="#E2E2E2"/>
<circle cx="1397.52" cy="184.08" r="1.55" fill="#E2E2E2"/>
<circle cx="1412.16" cy="170.84" r="1.55" fill="#E2E2E2"/>
<circle cx="1382.88" cy="223.8" r="1.55" fill="#E2E2E2"/>
<circle cx="1379.95" cy="219.39" r="1.55" fill="#E2E2E2"/>
<circle cx="1388.73" cy="188.49" r="1.55" fill="#E2E2E2"/>
<circle cx="1412.16" cy="179.66" r="1.55" fill="#E2E2E2"/>
<circle cx="1418.01" cy="166.42" r="1.55" fill="#E2E2E2"/>
<circle cx="1432.65" cy="153.18" r="1.55" fill="#E2E2E2"/>
<circle cx="1388.73" cy="188.49" r="1.55" fill="#E2E2E2"/>
<circle cx="1385.81" cy="210.56" r="1.55" fill="#E2E2E2"/>
<circle cx="1379.95" cy="188.49" r="1.55" fill="#E2E2E2"/>
<circle cx="1426.79" cy="166.42" r="1.55" fill="#E2E2E2"/>
<circle cx="1385.81" cy="188.49" r="1.55" fill="#E2E2E2"/>
<circle cx="1388.73" cy="192.91" r="1.55" fill="#E2E2E2"/>
<circle cx="1377.02" cy="223.8" r="1.55" fill="#E2E2E2"/>
<circle cx="1403.37" cy="197.32" r="1.55" fill="#E2E2E2"/>
<circle cx="1397.52" cy="188.49" r="1.55" fill="#E2E2E2"/>
<circle cx="1403.37" cy="210.56" r="1.55" fill="#E2E2E2"/>
<circle cx="1371.17" cy="210.56" r="1.55" fill="#E2E2E2"/>
<circle cx="1400.44" cy="175.25" r="1.55" fill="#E2E2E2"/>
<circle cx="1397.52" cy="184.08" r="1.55" fill="#E2E2E2"/>
<circle cx="1397.52" cy="206.15" r="1.55" fill="#E2E2E2"/>
<circle cx="1385.81" cy="214.97" r="1.55" fill="#E2E2E2"/>
<circle cx="1391.66" cy="206.15" r="1.55" fill="#E2E2E2"/>
<circle cx="1382.88" cy="197.32" r="1.55" fill="#E2E2E2"/>
<circle cx="1374.09" cy="210.56" r="1.55" fill="#E2E2E2"/>
<circle cx="1385.81" cy="170.84" r="1.55" fill="#A23B72"/>
<circle cx="1371.17" cy="210.56" r="1.55" fill="#A23B72"/>
<circle cx="1409.23" cy="175.25" r="1.55" fill="#A23B72"/>
<circle cx="1385.81" cy="188.49" r="1.55" fill="#A23B72"/>
<circle cx="1391.66" cy="179.66" r="1.55" fill="#A23B72"/>
<circle cx="1423.87" cy="144.35" r="1.55" fill="#A23B72"/>
<circle cx="1344.82" cy="237.04" r="1.55" fill="#A23B72"/>
<circle cx="1415.08" cy="157.59" r="1.55" fill="#A23B72"/>
<circle cx="1397.52" cy="179.66" r="1.55" fill="#A23B72"/>
<circle cx="1412.16" cy="166.42" r="1.55" fill="#A23B72"/>
<circle cx="1391.66" cy="210.56" r="1.55" fill="#A23B72"/>
<circle cx="1388.73" cy="201.73" r="1.55" fill="#A23B72"/>
<circle cx="1400.44" cy="192.91" r="1.55" fill="#A23B72"/>
<circle cx="1368.24" cy="214.97" r="1.55" fill="#A23B72"/>
<circle cx="1371.17" cy="210.56" r="1.55" fill="#A23B72"/>
<circle cx="1388.73" cy="201.73" r="1.55" fill="#A23B72"/>
<circle cx="1391.66" cy="192.91" r="1.55" fill="#A23B72"/>
<circle cx="1426.79" cy="139.94" r="1.55" fill="#A23B72"/>
<circle cx="1426.79" cy="131.11" r="1.55" fill="#A23B72"/>
<circle cx="1377.02" cy="214.97" r="1.55" fill="#A23B72"/>
<circle cx="1403.37" cy="184.08" r="1.55" fill="#A23B72"/>
<circle cx="1365.31" cy="219.39" r="1.55" fill="#A23B72"/>
<circle cx="1426.79" cy="139.94" r="1.55" fill="#A23B72"/>
<circle cx="1385.81" cy="219.39" r="1.55" fill="#A23B72"/>
<circle cx="1397.52" cy="184.08" r="1.55" fill="#A23B72"/>
<circle cx="1412.16" cy="170.84" r="1.55" fill="#A23B72"/>
<circle cx="1382.88" cy="223.8" r="1.55" fill="#A23B72"/>
<circle cx="1379.95" cy="219.39" r="1.55" fill="#A23B72"/>
<circle cx="1388.73" cy="188.49" r="1.55" fill="#A23B72"/>
<circle cx="1412.16" cy="179.66" r="1.55" fill="#A23B72"/>
<circle cx="1418.01" cy="166.42" r="1.55" fill="#A23B72"/>
<circle cx="1432.65" cy="153.18" r="1.55" fill="#A23B72"/>
<circle cx="1388.73" cy="188.49" r="1.55" fill="#A23B72"/>
<circle cx="1385.81" cy="210.56" r="1.55" fill="#A23B72"/>
<circle cx="1379.95" cy="188.49" r="1.55" fill="#A23B72"/>
<circle cx="1426.79" cy="166.42" r="1.55" fill="#A23B72"/>
<circle cx="1385.81" cy="188.49" r="1.55" fill="#A23B72"/>
<circle cx="1388.73" cy="192.91" r="1.55" fill="#A23B72"/>
<circle cx="1377.02" cy="223.8" r="1.55" fill="#A23B72"/>
<circle cx="1403.37" cy="197.32" r="1.55" fill="#A23B72"/>
<circle cx="1397.52" cy="188.49" r="1.55" fill="#A23B72"/>
<circle cx="1403.37" cy="210.56" r="1.55" fill="#A23B72"/>
<circle cx="1371.17" cy="210.56" r="1.55" fill="#A23B72"/>
<circle cx="1400.44" cy="175.25" r="1.55" fill="#A23B72"/>
<circle cx="1397.52" cy="184.08" r="1.55" fill="#A23B72"/>
<circle cx="1397.52" cy="206.15" r="1.55" fill="#A23B72"/>
<circle cx="1385.81" cy="214.97" r="1.55" fill="#A23B72"/>
<circle cx="1391.66" cy="206.15" r="1.55" fill="#A23B72"/>
<circle cx="1382.88" cy="197.32" r="1.55" fill="#A23B72"/>
<circle cx="1374.09" cy="210.56" r="1.55" fill="#A23B72"/>
<rect x="1322.4" y="118" width="115.12" height="286.4" fill="none" stroke="#444444" stroke-width="0.6"/>
<rect x="1322.4" y="102.45" width="115.12" height="15.55" fill="#D9D9D9" stroke="#444444" stroke-width="0.6"/>
<line x1="1347.74" x2="1347.74" y1="404.4" y2="407.1" stroke="#333333" stroke-width="1.0"/>
<line x1="1377.02" x2="1377.02" y1="404.4" y2="407.1" stroke="#333333" stroke-width="1.0"/>
<line x1="1406.3" x2="1406.3" y1="404.4" y2="407.1" stroke="#333333" stroke-width="1.0"/>
<line x1="1435.58" x2="1435.58" y1="404.4" y2="407.1" stroke="#333333" stroke-width="1.0"/>
<circle cx="1461.5" cy="252.2" r="5.5" fill="#2E86AB"/>
<circle cx="1461.5" cy="268.4" r="5.5" fill="#F18F01"/>
<circle cx="1461.5" cy="284.6" r="5.5" fill="#A23B72"/>
</g>
<g filter="url(#tsoft)">
<text x="68.6" y="398.44" text-anchor="end" font-size="8.2" fill="#5A5A5A">10</text>
<text x="68.6" y="339.95" text-anchor="end" font-size="8.2" fill="#5A5A5A">15</text>
<text x="68.6" y="281.47" text-anchor="end" font-size="8.2" fill="#5A5A5A">20</text>
<text x="68.6" y="222.99" text-anchor="end" font-size="8.2" fill="#5A5A5A">25</text>
<text x="68.6" y="164.51" text-anchor="end" font-size="8.2" fill="#5A5A5A">30</text>
<text x="68.6" y="106.03" text-anchor="end" font-size="8.2" fill="#5A5A5A">35</text>
<text x="134.64" y="415" text-anchor="middle" font-size="8.2" fill="#5A5A5A">2</text>
<text x="224.73" y="415" text-anchor="middle" font-size="8.2" fill="#5A5A5A">3</text>
<text x="314.82" y="415" text-anchor="middle" font-size="8.2" fill="#5A5A5A">4</text>
<text x="404.91" y="415" text-anchor="middle" font-size="8.2" fill="#5A5A5A">5</text>
<text x="267" y="426.8" text-anchor="middle" font-size="10.25" fill="#000">Weight (1000 lbs)</text>
<text transform="translate(53.8,253.42) rotate(-90)" x="0" y="0" text-anchor="middle" font-size="10.25" fill="#000">Miles per Gallon</text>
<text x="476.6" y="229.7" text-anchor="start" font-size="10.25" fill="#000">cyl</text>
<text x="497.8" y="247.4" text-anchor="start" font-size="8.2" fill="#000">4</text>
<text x="497.8" y="263.5" text-anchor="start" font-size="8.2" fill="#000">6</text>
<text x="497.8" y="279.6" text-anchor="start" font-size="8.2" fill="#000">8</text>
<text x="561.9" y="344.59" text-anchor="end" font-size="8.2" fill="#5A5A5A">16</text>
<text x="561.9" y="279.16" text-anchor="end" font-size="8.2" fill="#5A5A5A">18</text>
<text x="561.9" y="213.73" text-anchor="end" font-size="8.2" fill="#5A5A5A">20</text>
<text x="561.9" y="148.3" text-anchor="end" font-size="8.2" fill="#5A5A5A">22</text>
<text x="636.09" y="415" text-anchor="middle" font-size="8.2" fill="#5A5A5A">100</text>
<text x="748.69" y="415" text-anchor="middle" font-size="8.2" fill="#5A5A5A">200</text>
<text x="861.29" y="415" text-anchor="middle" font-size="8.2" fill="#5A5A5A">300</text>
<text x="741.45" y="426.8" text-anchor="middle" font-size="10.25" fill="#000">Horsepower</text>
<text transform="translate(546.6,253.42) rotate(-90)" x="0" y="0" text-anchor="middle" font-size="10.25" fill="#000">Quarter Mile Time (sec)</text>
<text x="932" y="196.5" text-anchor="start" font-size="10.25" fill="#000">am</text>
<text x="953.6" y="213.9" text-anchor="start" font-size="8.2" fill="#000">Automatic</text>
<text x="953.6" y="230" text-anchor="start" font-size="8.2" fill="#000">Manual</text>
<text x="932" y="264" text-anchor="start" font-size="10.25" fill="#000">gear</text>
<text x="953.6" y="281.5" text-anchor="start" font-size="8.2" fill="#000">3</text>
<text x="953.6" y="297.6" text-anchor="start" font-size="8.2" fill="#000">4</text>
<text x="953.6" y="313.7" text-anchor="start" font-size="8.2" fill="#000">5</text>
<text x="1138.06" y="112.9" text-anchor="middle" font-size="8.2" fill="#1A1A1A">setosa</text>
<text x="1105.58" y="415" text-anchor="middle" font-size="8.2" fill="#5A5A5A">5</text>
<text x="1134.86" y="415" text-anchor="middle" font-size="8.2" fill="#5A5A5A">6</text>
<text x="1164.14" y="415" text-anchor="middle" font-size="8.2" fill="#5A5A5A">7</text>
<text x="1193.42" y="415" text-anchor="middle" font-size="8.2" fill="#5A5A5A">8</text>
<text x="1075.8" y="350.39" text-anchor="end" font-size="8.2" fill="#5A5A5A">2</text>
<text x="1075.8" y="262.11" text-anchor="end" font-size="8.2" fill="#5A5A5A">4</text>
<text x="1075.8" y="173.84" text-anchor="end" font-size="8.2" fill="#5A5A5A">6</text>
<text x="1258.74" y="112.9" text-anchor="middle" font-size="8.2" fill="#1A1A1A">versicolor</text>
<text x="1226.66" y="415" text-anchor="middle" font-size="8.2" fill="#5A5A5A">5</text>
<text x="1255.94" y="415" text-anchor="middle" font-size="8.2" fill="#5A5A5A">6</text>
<text x="1285.22" y="415" text-anchor="middle" font-size="8.2" fill="#5A5A5A">7</text>
<text x="1314.5" y="415" text-anchor="middle" font-size="8.2" fill="#5A5A5A">8</text>
<text x="1258.74" y="426.8" text-anchor="middle" font-size="10.25" fill="#000">Sepal Length</text>
<text x="1379.96" y="112.9" text-anchor="middle" font-size="8.2" fill="#1A1A1A">virginica</text>
<text x="1347.74" y="415" text-anchor="middle" font-size="8.2" fill="#5A5A5A">5</text>
<text x="1377.02" y="415" text-anchor="middle" font-size="8.2" fill="#5A5A5A">6</text>
<text x="1406.3" y="415" text-anchor="middle" font-size="8.2" fill="#5A5A5A">7</text>
<text x="1435.58" y="415" text-anchor="middle" font-size="8.2" fill="#5A5A5A">8</text>
<text transform="translate(1065.6,260.9) rotate(-90)" x="0" y="0" text-anchor="middle" font-size="10.25" fill="#000">Petal Length</text>
<text x="1453.4" y="237.6" text-anchor="start" font-size="10.25" fill="#000">Species</text>
<text x="1474.6" y="255.2" text-anchor="start" font-size="8.2" fill="#000">setosa</text>
<text x="1474.6" y="271.4" text-anchor="start" font-size="8.2" fill="#000">versicolor</text>
<text x="1474.6" y="287.6" text-anchor="start" font-size="8.2" fill="#000">virginica</text>
</g>
</svg></div>
<div class="bar"></div>
</body></html>
